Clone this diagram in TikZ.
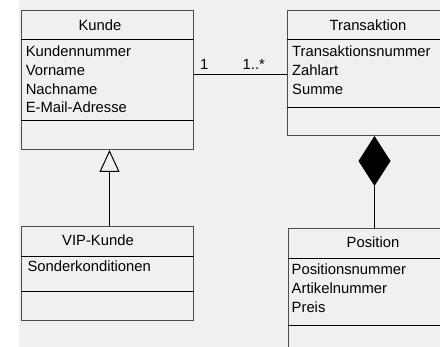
\documentclass[tikz,border=0pt]{standalone}
\usepackage{fontspec}
\setmainfont{Liberation Sans}
\usepackage{tikz}
\usetikzlibrary{arrows.meta}
\definecolor{bggray}{HTML}{F0F0F0}
\definecolor{framegray}{HTML}{4D4D4D}

\begin{document}
\begin{tikzpicture}[x=1pt,y=-1pt,
	every node/.style={font=\fontsize{14.8}{18}\selectfont, inner sep=0pt},
	classbox/.style={draw=framegray, line width=1pt, anchor=north west, minimum width=172pt},
	attr/.style={anchor=base west},
	titel/.style={anchor=base},
	sepline/.style={line width=1pt},
	link/.style={line width=1pt}]
	\useasboundingbox (0,0) rectangle (440,347);
	\clip (0,0) rectangle (440,347);
	\fill[bggray] (19,0) rectangle (440,347);
	% Kunde
	\node[classbox, minimum height=139pt] (kunde) at (21,10) {};
	\draw[sepline] (kunde.west |- 0,40) -- (kunde.east |- 0,40);
	\draw[sepline] (kunde.west |- 0,121) -- (kunde.east |- 0,121);
	\node[titel] (kundeT) at (100,30.7) {Kunde};
	\node[attr] (kundeA) at (25.6,56.7) {Kundennummer};
	\node[attr] (kundeB) at (25.6,75.5) {Vorname};
	\node[attr] (kundeC) at (25.6,94.2) {Nachname};
	\node[attr] (kundeD) at (25.6,112.5) {E-Mail-Adresse};
	% Transaktion
	\node[classbox, minimum height=125pt] (trans) at (287,10) {};
	\draw[sepline] (trans.west |- 0,40) -- (trans.east |- 0,40);
	\draw[sepline] (trans.west |- 0,108) -- (trans.east |- 0,108);
	\node[titel] (transT) at (368,30.7) {Transaktion};
	\node[attr] (transA) at (292,56.7) {Transaktionsnummer};
	\node[attr] (transB) at (292,75.3) {Zahlart};
	\node[attr] (transC) at (292,94.3) {Summe};
	% VIP-Kunde
	\node[classbox, minimum height=94pt] (vip) at (21,226) {};
	\draw[sepline] (vip.west |- 0,257) -- (vip.east |- 0,257);
	\draw[sepline] (vip.west |- 0,292) -- (vip.east |- 0,292);
	\node[titel] (vipT) at (98,246) {VIP-Kunde};
	\node[attr] (vipA) at (27.3,272) {Sonderkonditionen};
	% Position
	\node[classbox, minimum height=126pt] (pos) at (288,228) {};
	\draw[sepline] (pos.west |- 0,259) -- (pos.east |- 0,259);
	\draw[sepline] (pos.west |- 0,326) -- (pos.east |- 0,326);
	\node[titel] (posT) at (373,247.5) {Position};
	\node[attr] (posA) at (291.5,274.3) {Positionsnummer};
	\node[attr] (posB) at (291.5,293.3) {Artikelnummer};
	\node[attr] (posC) at (291.5,312.5) {Preis};
	% Beziehungen
	\coordinate (assoc) at (0,75);
	\draw[link] (kunde.east |- assoc) -- (trans.west |- assoc);
	\node[attr] (multA) at (200,69.3) {1};
	\node[attr] (multB) at (242.5,69.3) {1..*};
	\draw[link, -{Triangle[open, length=22pt, width=20pt]}] ([xshift=2pt]vip.north) -- ([xshift=2pt]kunde.south);
	\draw[link, {Diamond[length=50pt, width=32pt]}-] (trans.south -| pos.north) -- (pos.north);
\end{tikzpicture}
\end{document}
